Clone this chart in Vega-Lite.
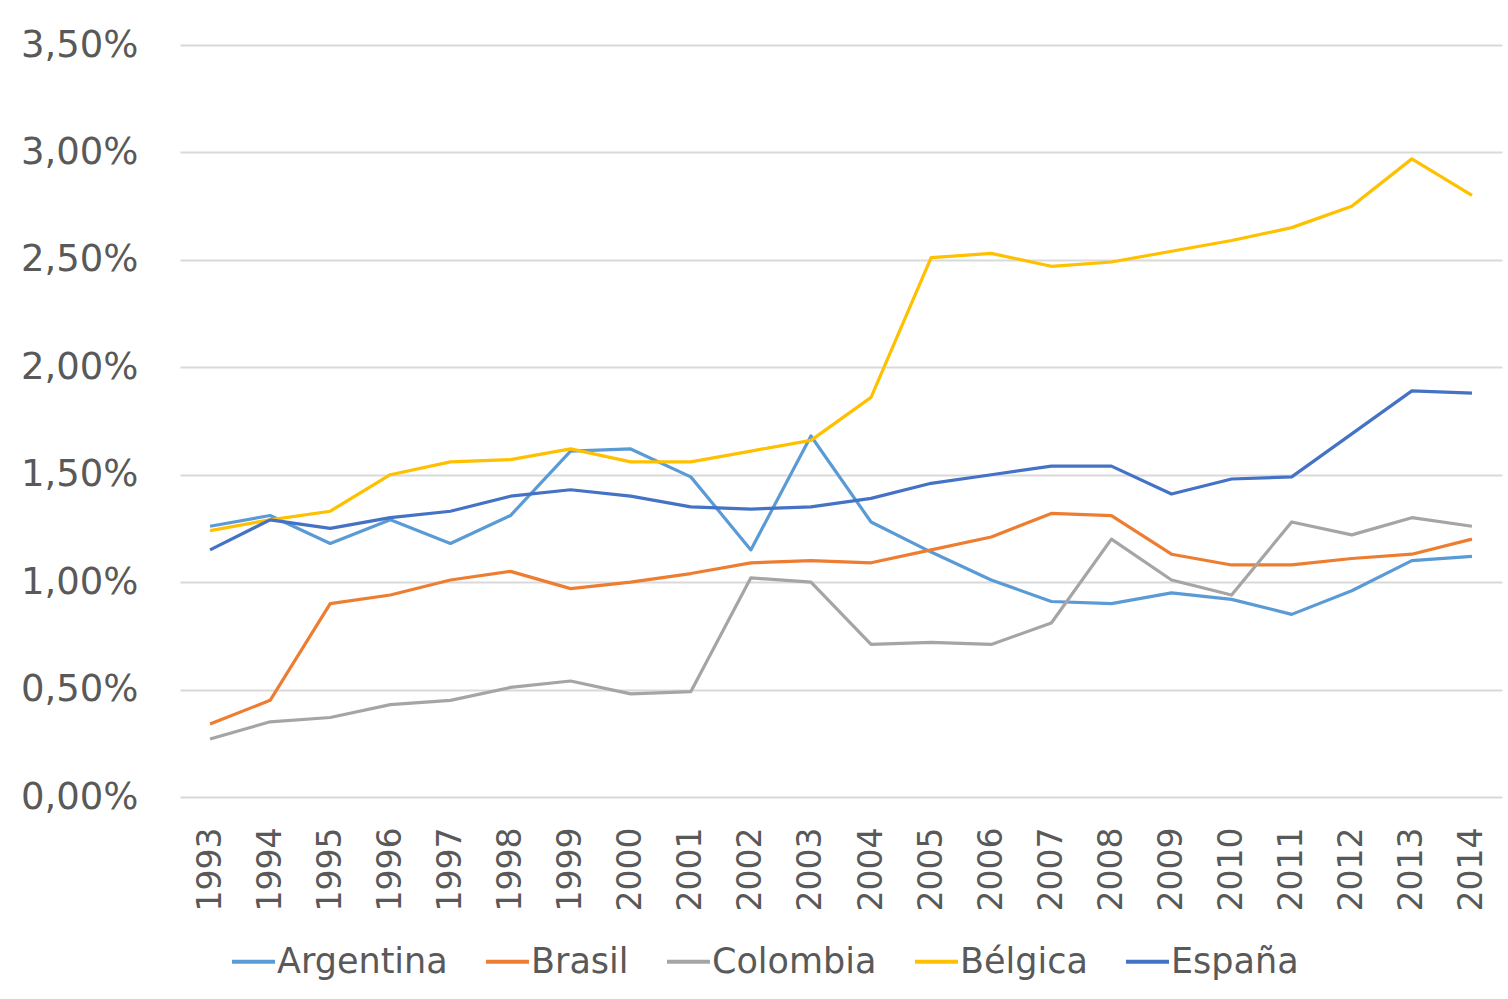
{
  "$schema": "https://vega.github.io/schema/vega-lite/v6.json",
  "width": 1322,
  "height": 752,
  "autosize": "none",
  "padding": {"left": 180, "top": 45, "right": 6, "bottom": 202},
  "background": "white",
  "config": {
    "locale": {"number": {"decimal": ",", "thousands": ".", "grouping": [3], "currency": ["", " €"]}},
    "view": {"stroke": null},
    "font": "DejaVu Sans"
  },
  "data": {
    "values": [
      {"year": "1993", "Argentina": 0.0126, "Brasil": 0.0034, "Colombia": 0.0027, "Bélgica": 0.0124, "España": 0.0115},
      {"year": "1994", "Argentina": 0.0131, "Brasil": 0.0045, "Colombia": 0.0035, "Bélgica": 0.0129, "España": 0.0129},
      {"year": "1995", "Argentina": 0.0118, "Brasil": 0.0090, "Colombia": 0.0037, "Bélgica": 0.0133, "España": 0.0125},
      {"year": "1996", "Argentina": 0.0129, "Brasil": 0.0094, "Colombia": 0.0043, "Bélgica": 0.0150, "España": 0.0130},
      {"year": "1997", "Argentina": 0.0118, "Brasil": 0.0101, "Colombia": 0.0045, "Bélgica": 0.0156, "España": 0.0133},
      {"year": "1998", "Argentina": 0.0131, "Brasil": 0.0105, "Colombia": 0.0051, "Bélgica": 0.0157, "España": 0.0140},
      {"year": "1999", "Argentina": 0.0161, "Brasil": 0.0097, "Colombia": 0.0054, "Bélgica": 0.0162, "España": 0.0143},
      {"year": "2000", "Argentina": 0.0162, "Brasil": 0.0100, "Colombia": 0.0048, "Bélgica": 0.0156, "España": 0.0140},
      {"year": "2001", "Argentina": 0.0149, "Brasil": 0.0104, "Colombia": 0.0049, "Bélgica": 0.0156, "España": 0.0135},
      {"year": "2002", "Argentina": 0.0115, "Brasil": 0.0109, "Colombia": 0.0102, "Bélgica": 0.0161, "España": 0.0134},
      {"year": "2003", "Argentina": 0.0168, "Brasil": 0.0110, "Colombia": 0.0100, "Bélgica": 0.0166, "España": 0.0135},
      {"year": "2004", "Argentina": 0.0128, "Brasil": 0.0109, "Colombia": 0.0071, "Bélgica": 0.0186, "España": 0.0139},
      {"year": "2005", "Argentina": 0.0114, "Brasil": 0.0115, "Colombia": 0.0072, "Bélgica": 0.0251, "España": 0.0146},
      {"year": "2006", "Argentina": 0.0101, "Brasil": 0.0121, "Colombia": 0.0071, "Bélgica": 0.0253, "España": 0.0150},
      {"year": "2007", "Argentina": 0.0091, "Brasil": 0.0132, "Colombia": 0.0081, "Bélgica": 0.0247, "España": 0.0154},
      {"year": "2008", "Argentina": 0.0090, "Brasil": 0.0131, "Colombia": 0.0120, "Bélgica": 0.0249, "España": 0.0154},
      {"year": "2009", "Argentina": 0.0095, "Brasil": 0.0113, "Colombia": 0.0101, "Bélgica": 0.0254, "España": 0.0141},
      {"year": "2010", "Argentina": 0.0092, "Brasil": 0.0108, "Colombia": 0.0094, "Bélgica": 0.0259, "España": 0.0148},
      {"year": "2011", "Argentina": 0.0085, "Brasil": 0.0108, "Colombia": 0.0128, "Bélgica": 0.0265, "España": 0.0149},
      {"year": "2012", "Argentina": 0.0096, "Brasil": 0.0111, "Colombia": 0.0122, "Bélgica": 0.0275, "España": 0.0169},
      {"year": "2013", "Argentina": 0.0110, "Brasil": 0.0113, "Colombia": 0.0130, "Bélgica": 0.0297, "España": 0.0189},
      {"year": "2014", "Argentina": 0.0112, "Brasil": 0.0120, "Colombia": 0.0126, "Bélgica": 0.0280, "España": 0.0188}
    ]
  },
  "transform": [
    {"fold": ["Argentina", "Brasil", "Colombia", "Bélgica", "España"], "as": ["country", "value"]}
  ],
  "mark": {"type": "line", "strokeWidth": 3.2, "strokeJoin": "round"},
  "encoding": {
    "x": {
      "field": "year",
      "type": "ordinal",
      "scale": {"type": "point", "padding": 0.5},
      "axis": {
        "title": null,
        "labelAngle": -90,
        "labelAlign": "right",
        "labelBaseline": "middle",
        "labelFontSize": 33,
        "labelColor": "#595959",
        "labelPadding": 30,
        "ticks": false,
        "tickSize": 0,
        "domain": false,
        "grid": false
      }
    },
    "y": {
      "field": "value",
      "type": "quantitative",
      "scale": {"domain": [0, 0.035], "nice": false},
      "axis": {
        "title": null,
        "values": [0, 0.005, 0.01, 0.015, 0.02, 0.025, 0.03, 0.035],
        "format": ".2%",
        "labelFontSize": 37,
        "labelColor": "#595959",
        "labelPadding": 42,
        "ticks": false,
        "tickSize": 0,
        "domain": false,
        "grid": true,
        "gridColor": "#D9D9D9",
        "gridWidth": 2
      }
    },
    "color": {
      "field": "country",
      "type": "nominal",
      "sort": ["Argentina", "Brasil", "Colombia", "Bélgica", "España"],
      "scale": {
        "domain": ["Argentina", "Brasil", "Colombia", "Bélgica", "España"],
        "range": ["#5B9BD5", "#ED7D31", "#A5A5A5", "#FFC000", "#4472C4"]
      },
      "legend": {
        "title": null,
        "orient": "none",
        "legendX": 50,
        "legendY": 893,
        "direction": "horizontal",
        "symbolType": "stroke",
        "symbolSize": 1849,
        "symbolStrokeWidth": 4,
        "labelFontSize": 35,
        "labelColor": "#595959",
        "labelOffset": 0,
        "columnPadding": 30,
        "labelLimit": 400
      }
    }
  }
}
